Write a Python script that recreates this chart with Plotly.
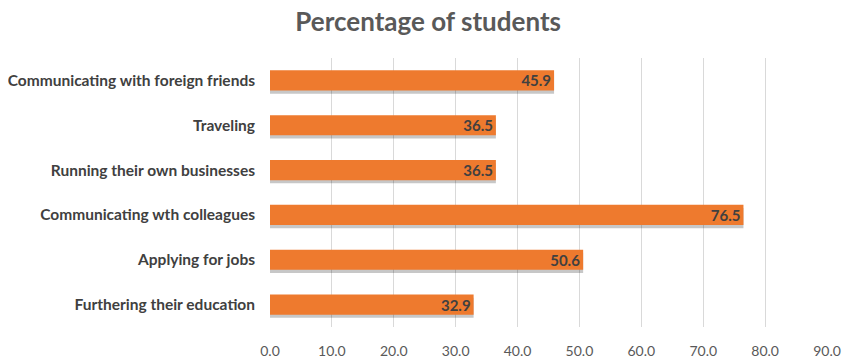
import plotly.graph_objects as go

categories = [
    "Communicating with foreign friends",
    "Traveling",
    "Running their own businesses",
    "Communicating wth colleagues",
    "Applying for jobs",
    "Furthering their education",
]
values = [45.9, 36.5, 36.5, 76.5, 50.6, 32.9]
tick_vals = [0, 10, 20, 30, 40, 50, 60, 70, 80, 90]
tick_text = ["%.1f" % v for v in tick_vals]

W = 0.45
fig = go.Figure()
# soft shadow
fig.add_trace(go.Bar(
    x=values, y=categories, orientation="h",
    width=W, offset=-W / 2 + 0.07,
    marker=dict(color="rgba(0,0,0,0.22)", line=dict(width=0)),
    hoverinfo="skip", showlegend=False,
))
fig.add_trace(go.Bar(
    x=values, y=categories, orientation="h",
    width=W, offset=-W / 2,
    marker=dict(color="#EE7A2E", line=dict(width=0)),
    text=["%.1f" % v for v in values],
    textposition="inside", insidetextanchor="end", constraintext="none",
    textfont=dict(family="Lato", size=15, color="#404040", weight="bold"),
    showlegend=False,
))

fig.update_layout(
    width=854, height=359,
    barmode="overlay",
    margin=dict(l=262, r=35, t=50, b=40),
    paper_bgcolor="white", plot_bgcolor="white",
    title=dict(
        text="<b>Percentage of students</b>",
        x=0.492, xanchor="center", y=1, yanchor="top",
        pad=dict(t=5, b=0, l=0, r=0),
        font=dict(family="Lato", size=26, color="#595959"),
    ),
    xaxis=dict(
        range=[0, 90], tickvals=tick_vals, ticktext=tick_text,
        showgrid=True, gridcolor="#D9D9D9", gridwidth=1,
        zeroline=False, showline=False, automargin=False,
        tickfont=dict(family="Lato", size=14, color="#595959"),
        ticklabelstandoff=14,
    ),
    yaxis=dict(
        autorange="reversed", showgrid=False, zeroline=False, showline=False,
        automargin=False,
        tickfont=dict(family="Lato", size=15.5, color="#404040", weight="bold"),
        ticklabelstandoff=14,
    ),
)

fig.write_html("out.html")
